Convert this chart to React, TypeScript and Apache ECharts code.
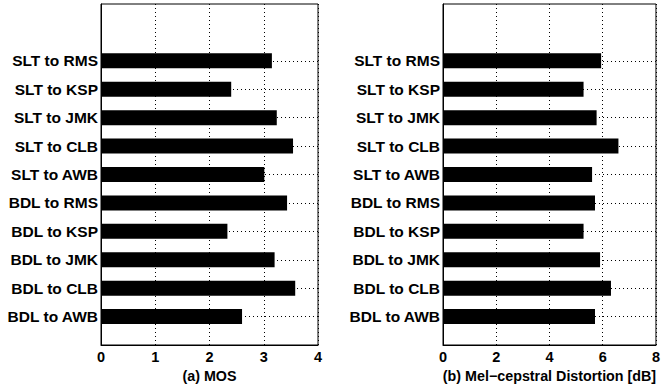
import React, { useEffect, useRef } from "react";
import * as echarts from "echarts";

// Categories listed top to bottom as in the figure
const categories = [
  "SLT to RMS",
  "SLT to KSP",
  "SLT to JMK",
  "SLT to CLB",
  "SLT to AWB",
  "BDL to RMS",
  "BDL to KSP",
  "BDL to JMK",
  "BDL to CLB",
  "BDL to AWB",
];
const mosValues = [3.15, 2.4, 3.24, 3.54, 3.01, 3.43, 2.33, 3.2, 3.58, 2.6];
const melValues = [5.94, 5.28, 5.77, 6.59, 5.6, 5.71, 5.28, 5.9, 6.31, 5.71];
const mosTicks = [0, 1, 2, 3, 4];
const melTicks = [0, 2, 4, 6, 8];
const mosTitle = "(a) MOS";
const melTitle = "(b) Mel\u2212cepstral Distortion [dB]";

const FONT = "'Liberation Sans', Arial, Helvetica, sans-serif";

export default function App() {
  const ref = useRef<HTMLDivElement>(null);
  useEffect(() => {
    if (!ref.current) return;
    const chart = echarts.init(ref.current, undefined, { renderer: "svg" });
    // axis slots 0..12: bottom category at 1, top at 10, blanks at 0, 11, 12
    const slots = ["", ...categories.slice().reverse(), "", ""];
    const toSlotData = (vals: number[]) => {
      const rev = vals.slice().reverse();
      return slots.map((_, i) => (i >= 1 && i <= categories.length ? rev[i - 1] : null));
    };
    const makeY = (gridIndex: number) => ({
      type: "category" as const,
      gridIndex,
      data: slots,
      boundaryGap: false,
      axisLine: { show: true, lineStyle: { color: "#000", width: 1 } },
      axisTick: { show: false },
      axisLabel: {
        interval: 0,
        color: "#000",
        fontFamily: FONT,
        fontWeight: "bold",
        fontSize: 15.5,
        margin: 3,
      },
      splitLine: {
        show: true,
        interval: (index: number) => index >= 1 && index <= categories.length,
        lineStyle: { color: "#000", type: [1, 3], width: 1 },
      },
    });
    const makeX = (gridIndex: number, ticks: number[], name: string) => ({
      type: "value" as const,
      gridIndex,
      min: ticks[0],
      max: ticks[ticks.length - 1],
      interval: ticks[1] - ticks[0],
      name,
      nameLocation: "middle" as const,
      nameGap: 20,
      nameTextStyle: { color: "#000", fontFamily: FONT, fontWeight: "bold", fontSize: 14.3 },
      axisLine: { show: true, lineStyle: { color: "#000", width: 1 } },
      axisTick: { show: false },
      axisLabel: { color: "#000", fontFamily: FONT, fontWeight: "bold", fontSize: 14.5, margin: 4 },
      splitLine: { show: true, lineStyle: { color: "#000", type: [1, 3], width: 1 } },
    });
    chart.setOption({
      animation: false,
      backgroundColor: "#fff",
      grid: [
        { left: 101, right: 345, top: 4, bottom: 43, show: true, borderColor: "#000", borderWidth: 1 },
        { left: 443, right: 3, top: 4, bottom: 43, show: true, borderColor: "#000", borderWidth: 1 },
      ],
      xAxis: [makeX(0, mosTicks, mosTitle), makeX(1, melTicks, melTitle)],
      yAxis: [makeY(0), makeY(1)],
      series: [
        {
          type: "bar",
          xAxisIndex: 0,
          yAxisIndex: 0,
          data: toSlotData(mosValues),
          barWidth: 15,
          itemStyle: { color: "#000" },
          z: 3,
        },
        {
          type: "bar",
          xAxisIndex: 1,
          yAxisIndex: 1,
          data: toSlotData(melValues),
          barWidth: 15,
          itemStyle: { color: "#000" },
          z: 3,
        },
      ],
    });
    return () => chart.dispose();
  }, []);
  return (
    <div
      ref={ref}
      style={{ position: "fixed", left: 0, top: 0, width: 663, height: 388, background: "#fff" }}
    />
  );
}
